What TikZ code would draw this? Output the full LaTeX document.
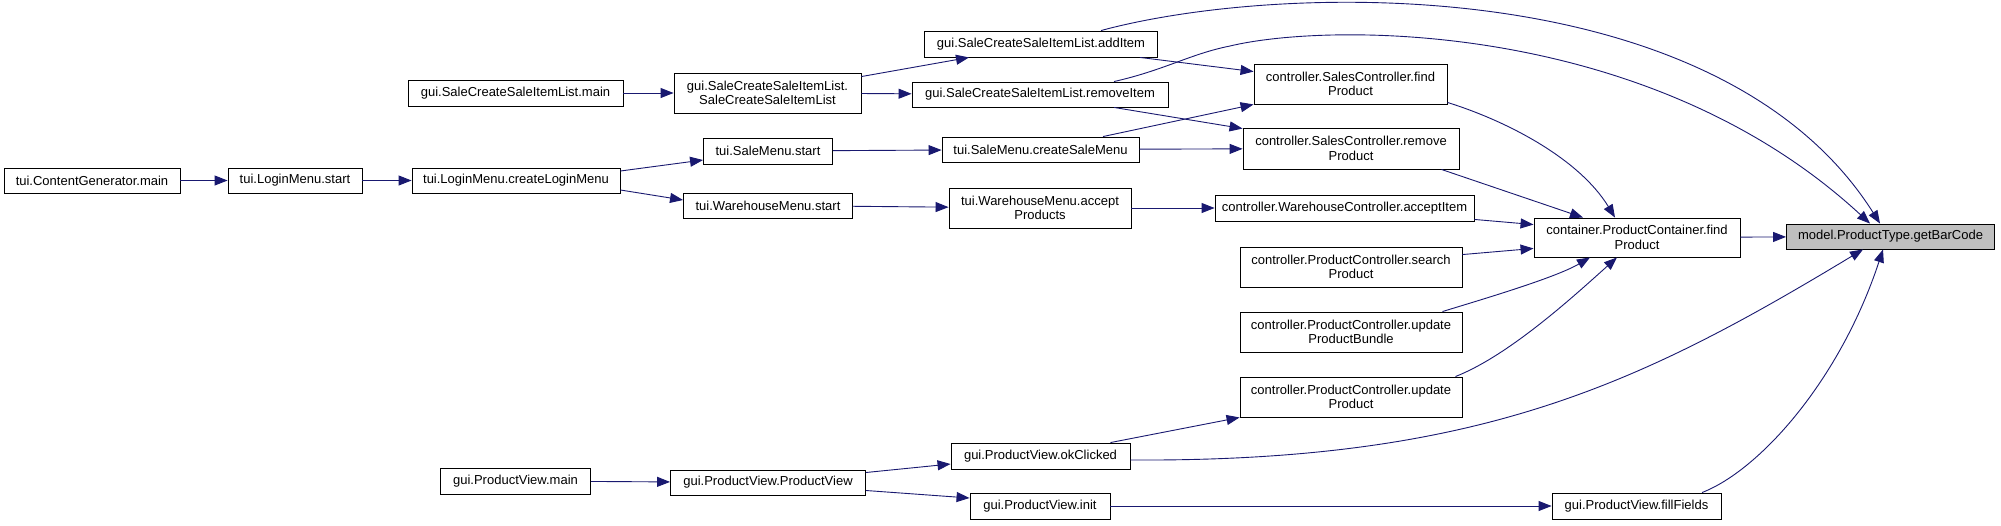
\documentclass[tikz,border=0pt]{standalone}
\usepackage{fontspec}
\setmainfont{Liberation Sans}
\usepackage{tikz}
\usetikzlibrary{arrows.meta}
\definecolor{edgeblue}{RGB}{25,25,112}
\definecolor{rootgray}{RGB}{191,191,191}
\newcommand{\fnfont}{\fontsize{13}{14.5}\selectfont}
\tikzstyle{fn} = [rectangle, draw=black, fill=white, line width=0.9pt, inner sep=0pt, align=center, font=\fnfont]
\tikzstyle{rootfn} = [fn, fill=rootgray]
\tikzstyle{arrow} = [draw=edgeblue, line width=0.9pt, -{Triangle[length=13pt,width=10pt]}]

\begin{document}
\begin{tikzpicture}[x=1pt, y=-1pt]
\path[use as bounding box, fill=white] (0,0) rectangle (2001,525);

% ===== LOGIN CHAIN =====
\node (gen_main) [fn, minimum width=176, minimum height=25] at (92,180.5) {tui.ContentGenerator.main};
\node (login_start) [fn, minimum width=134, minimum height=25] at (295,180.5) {tui.LoginMenu.start};
\node (login_create) [fn, minimum width=208, minimum height=25] at (516,180.5) {tui.LoginMenu.createLoginMenu};

% ===== SALE ITEM LIST =====
\node (scsil_main) [fn, minimum width=215, minimum height=26] at (515.5,93) {gui.SaleCreateSaleItemList.main};
\node (scsil_ctor) [fn, minimum width=187, minimum height=40] at (767.5,93) {gui.SaleCreateSaleItemList.\\SaleCreateSaleItemList};
\node (scsil_add) [fn, minimum width=233, minimum height=26] at (1041,44) {gui.SaleCreateSaleItemList.addItem};
\node (scsil_remove) [fn, minimum width=256, minimum height=25] at (1040,94.5) {gui.SaleCreateSaleItemList.removeItem};

% ===== MENUS =====
\node (sale_start) [fn, minimum width=129, minimum height=26] at (768,151) {tui.SaleMenu.start};
\node (sale_create) [fn, minimum width=197, minimum height=25] at (1040.5,149.5) {tui.SaleMenu.createSaleMenu};
\node (wh_start) [fn, minimum width=169, minimum height=25] at (768,205.5) {tui.WarehouseMenu.start};
\node (wh_accept) [fn, minimum width=182, minimum height=40] at (1040,208) {tui.WarehouseMenu.accept\\Products};

% ===== CONTROLLERS =====
\node (sc_find) [fn, minimum width=193, minimum height=40] at (1350.5,84) {controller.SalesController.find\\Product};
\node (sc_remove) [fn, minimum width=216, minimum height=41] at (1351,148.5) {controller.SalesController.remove\\Product};
\node (wc_accept) [fn, minimum width=259, minimum height=26] at (1344.5,208) {controller.WarehouseController.acceptItem};
\node (pc_search) [fn, minimum width=222, minimum height=40] at (1351,267) {controller.ProductController.search\\Product};
\node (pc_bundle) [fn, minimum width=222, minimum height=40] at (1351,332) {controller.ProductController.update\\ProductBundle};
\node (pc_update) [fn, minimum width=222, minimum height=40] at (1351,397) {controller.ProductController.update\\Product};

% ===== CONTAINER AND TARGET =====
\node (container_find) [fn, minimum width=206, minimum height=39] at (1637,237.5) {container.ProductContainer.find\\Product};
\node (bar_code) [rootfn, minimum width=208, minimum height=25] at (1890.5,236.5) {model.ProductType.getBarCode};

% ===== PRODUCT VIEW =====
\node (pv_main) [fn, minimum width=150, minimum height=26] at (515.5,481) {gui.ProductView.main};
\node (pv_ctor) [fn, minimum width=195, minimum height=25] at (768,482.5) {gui.ProductView.ProductView};
\node (pv_ok) [fn, minimum width=179, minimum height=26] at (1040.5,456) {gui.ProductView.okClicked};
\node (pv_init) [fn, minimum width=140, minimum height=26] at (1040,506) {gui.ProductView.init};
\node (pv_fill) [fn, minimum width=169, minimum height=26] at (1636.5,506) {gui.ProductView.fillFields};

\coordinate (remove_bend) at (1230,46);

% ===== ARROWS =====
% login chain
\draw [arrow] (gen_main) -- (login_start);
\draw [arrow] (login_start) -- (login_create);
\draw [arrow] ([yshift=9.5]login_create.east) -- ([yshift=-9]sale_start.west);
\draw [arrow] ([yshift=-9.5]login_create.east) -- ([yshift=5.5]wh_start.west);

% sale item list
\draw [arrow] (scsil_main) -- (scsil_ctor);
\draw [arrow] ([yshift=-4]scsil_ctor.north east) -- ([xshift=-72]scsil_add.south);
\draw [arrow] (scsil_ctor) -- (scsil_remove);
\draw [arrow] ([xshift=-18]scsil_add.south east) -- ([yshift=-8]sc_find.north west);
\draw [arrow] ([xshift=74]scsil_remove.south) -- ([yshift=-1]sc_remove.north west);

% menus
\draw [arrow] (sale_start) -- (sale_create);
\draw [arrow] ([xshift=62.5]sale_create.north) -- (sc_find.south west);
\draw [arrow] (sale_create) -- (sc_remove);
\draw [arrow] (wh_start) -- (wh_accept);
\draw [arrow] (wh_accept) -- (wc_accept);

% controllers to container
\draw [arrow] ([yshift=2]sc_find.south east) .. controls (1510,122) and (1580,160) .. ([xshift=-22]container_find.north);
\draw [arrow] ([xshift=-18]sc_remove.south east) -- ([xshift=-54]container_find.north);
\draw [arrow] ([yshift=2]wc_accept.south east) -- ([yshift=-7]container_find.north west);
\draw [arrow] ([yshift=-8]pc_search.north east) -- ([yshift=9]container_find.south west);
\draw [arrow] ([xshift=-20]pc_bundle.north east) .. controls (1480,300) and (1555,278) .. ([xshift=-47]container_find.south);
\draw [arrow] ([xshift=-7]pc_update.north east) .. controls (1510,355) and (1575,295) .. ([xshift=-20]container_find.south);
\draw [arrow] (container_find) -- (bar_code);

% direct calls to the target
\draw [arrow] ([xshift=60]scsil_add.north) .. controls (1280,-18) and (1720,-30) .. ([xshift=-10.5]bar_code.north);
\draw [arrow] ([xshift=74]scsil_remove.north) .. controls (1165,70) and (1190,54) .. (remove_bend) .. controls (1330,22) and (1650,20) .. ([xshift=-20.5]bar_code.north);
\draw [arrow] ([yshift=-4]pv_ok.east) .. controls (1480,462) and (1640,384) .. ([xshift=-27.5]bar_code.south);
\draw [arrow] ([xshift=65.5]pv_fill.north) .. controls (1760,470) and (1840,380) .. ([xshift=-7.5]bar_code.south);

% product view
\draw [arrow] (pv_main) -- (pv_ctor);
\draw [arrow] ([yshift=10]pv_ctor.east) -- ([yshift=-8]pv_ok.west);
\draw [arrow] ([yshift=-8]pv_ctor.east) -- ([yshift=8]pv_init.west);
\draw [arrow] ([xshift=-20]pv_ok.north east) -- (pc_update.south west);
\draw [arrow] (pv_init) -- (pv_fill);

\end{tikzpicture}
\end{document}
